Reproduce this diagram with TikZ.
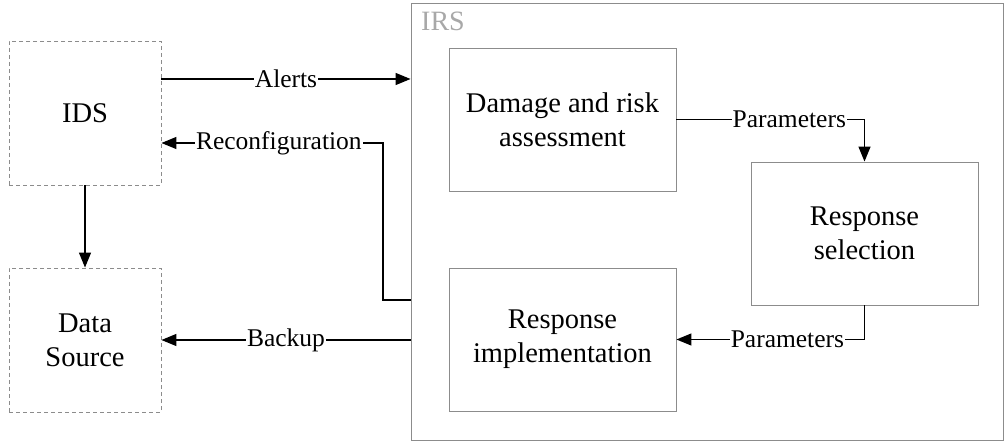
\documentclass[tikz,border=0pt]{standalone}
\usepackage{fontspec}
\setmainfont{Liberation Serif}
\newfontfamily\diagfont{Liberation Serif}
\usetikzlibrary{arrows.meta}
\definecolor{boxgray}{HTML}{8C8C8C}
\definecolor{irsgray}{HTML}{A8A8A8}
\tikzset{
  blk/.style={draw=boxgray, line width=0.9pt, minimum width=227pt, minimum height=143pt,
    align=center, font=\diagfont\fontsize{28.5}{34}\selectfont, inner sep=0pt},
  extbox/.style={blk, dashed, dash pattern=on 4pt off 3pt, minimum width=152pt, minimum height=144pt},
  arr/.style={draw=black, line width=1.3pt, -{Triangle[length=15pt,width=12pt]}},
  lbl/.style={fill=white, inner sep=1pt, font=\diagfont\fontsize{25.5}{28}\selectfont}
}
\begin{document}
\begin{tikzpicture}[x=1pt, y=-1pt]
  \useasboundingbox (0,0) rectangle (1006,443);

  % outer response system frame
  \node[draw=boxgray, line width=0.9pt, minimum width=592pt, minimum height=437pt, inner sep=0pt]
    (irs) at (707,221.5) {};
  \node[anchor=north west, text=irsgray, font=\diagfont\fontsize{28}{30}\selectfont, inner sep=0pt]
    (irslabel) at (421,12) {IRS};

  % external components
  \node[extbox] (ids) at (85,113) {IDS};
  \node[extbox] (ds)  at (85,340) {Data\\Source};

  % response pipeline
  \node[blk] (dmg) at (562.5,119.5) {Damage and risk\\assessment};
  \node[blk] (sel) at (864.5,233.5) {Response\\selection};
  \node[blk] (imp) at (562.5,339.5) {Response\\implementation};

  % helper points
  \coordinate (alertsL) at ([yshift=34pt]ids.east);
  \coordinate (reconfR) at ([yshift=-30pt]ids.east);
  \coordinate (reconfS) at ([yshift=-78.5pt]irs.west);
  \coordinate (reconfA) at (383,300);
  \coordinate (reconfB) at (383,143);
  \coordinate (parTop)  at (sel.north |- dmg.east);
  \coordinate (parBot)  at (sel.south |- imp.east);

  % connectors
  \draw[arr] (alertsL) -- node[lbl,pos=0.5]{Alerts} (irs.west |- alertsL);
  \draw[arr] (reconfS) -- (reconfA) -- (reconfB) -- node[lbl,pos=0.47]{Reconfiguration} (reconfR);
  \draw[arr] (irs.west |- ds.east) -- node[lbl,pos=0.5]{Backup} (ds.east);
  \draw[arr] (ids.south) -- (ds.north);
  \draw[arr] (dmg.east) -- node[lbl,pos=0.6]{Parameters} (parTop) -- (sel.north);
  \draw[arr] (sel.south) -- (parBot) -- node[lbl,pos=0.41]{Parameters} (imp.east);
\end{tikzpicture}
\end{document}
